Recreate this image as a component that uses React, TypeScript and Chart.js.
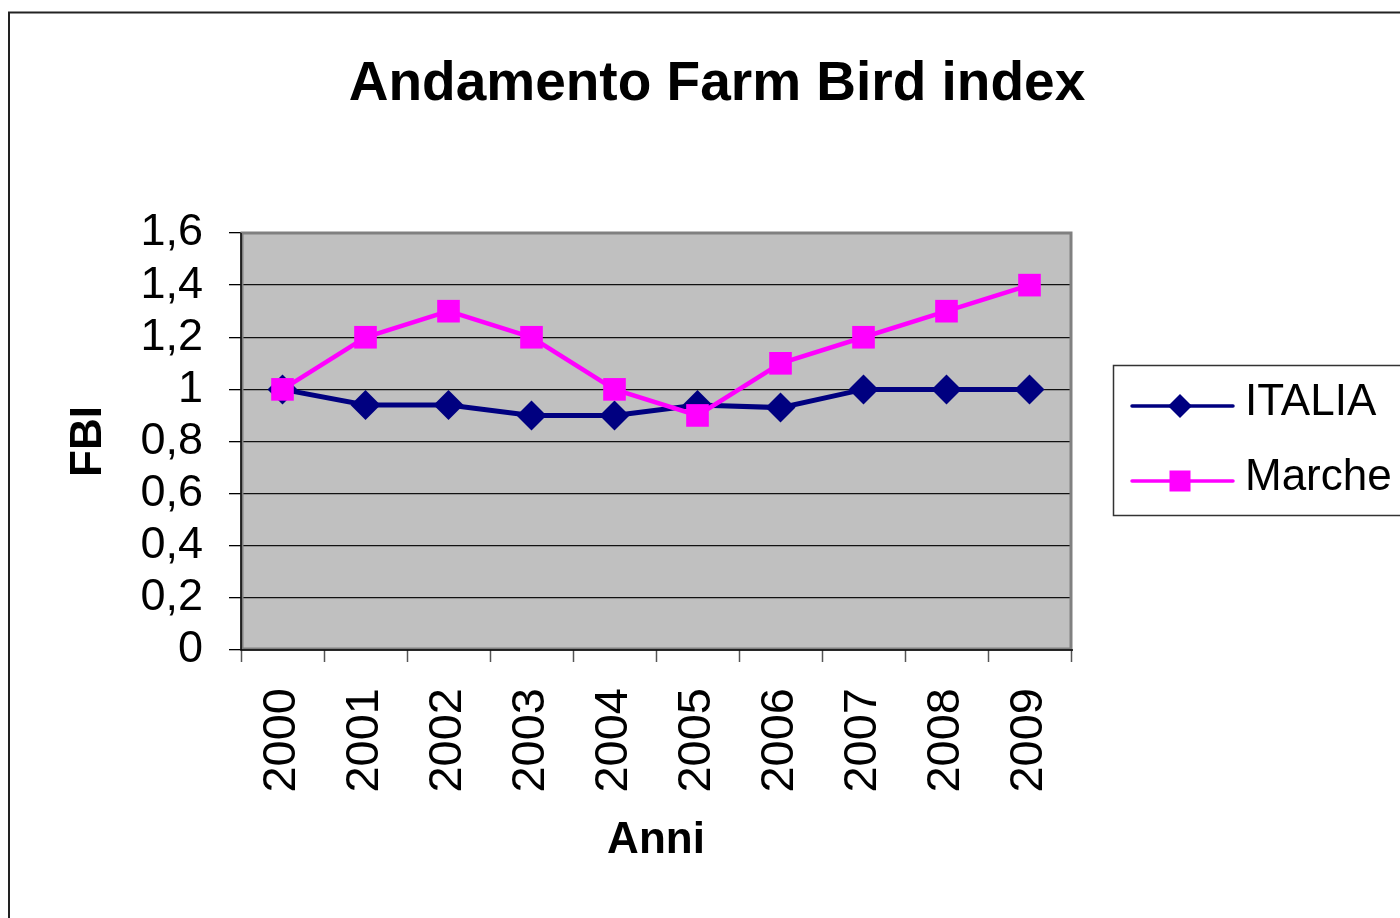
import { useEffect, useRef } from "react";
import { Chart, registerables } from "chart.js";

Chart.register(...registerables);

// ---- data ----
const years = ["2000", "2001", "2002", "2003", "2004", "2005", "2006", "2007", "2008", "2009"];
const italia = [1, 0.94, 0.94, 0.9, 0.9, 0.94, 0.93, 1, 1, 1];
const marche = [1, 1.2, 1.3, 1.2, 1, 0.9, 1.1, 1.2, 1.3, 1.4];
const yTickValues = [0, 0.2, 0.4, 0.6, 0.8, 1, 1.2, 1.4, 1.6];
const yTickLabels = ["0", "0,2", "0,4", "0,6", "0,8", "1", "1,2", "1,4", "1,6"];
const seriesNames = ["ITALIA", "Marche"];
const chartTitle = "Andamento Farm Bird index";
const xTitle = "Anni";
const yTitle = "FBI";

const FONT = '"Liberation Sans", Arial, Helvetica, sans-serif';
const NAVY = "#000080";
const MAGENTA = "#FF00FF";
const CANVAS_W = 1434;
const CANVAS_H = 918;

const excelPlugin = {
  id: "excelLook",
  beforeDraw(chart: any) {
    const { ctx, chartArea: a } = chart;
    ctx.save();
    ctx.fillStyle = "#ffffff";
    ctx.fillRect(0, 0, chart.width, chart.height);
    ctx.fillStyle = "#C0C0C0";
    ctx.fillRect(a.left, a.top, a.right - a.left, a.bottom - a.top);
    ctx.restore();
  },
  beforeDatasetsDraw(chart: any) {
    const { ctx, chartArea: a } = chart;
    ctx.save();
    ctx.strokeStyle = "#808080";
    ctx.lineWidth = 3;
    ctx.strokeRect(a.left + 1, a.top, a.right - a.left - 1, a.bottom - a.top - 1);
    ctx.strokeStyle = "#000000";
    ctx.lineWidth = 1.5;
    ctx.beginPath();
    ctx.moveTo(a.left, a.top);
    ctx.lineTo(a.left, a.bottom);
    ctx.lineTo(a.right + 2, a.bottom);
    ctx.stroke();
    ctx.restore();
  },
  afterDraw(chart: any) {
    const { ctx } = chart;
    ctx.save();
    // outer chart border (left and top visible)
    ctx.strokeStyle = "#222222";
    ctx.lineWidth = 2;
    ctx.beginPath();
    ctx.moveTo(9, chart.height + 5);
    ctx.lineTo(9, 12.5);
    ctx.lineTo(chart.width + 5, 12.5);
    ctx.stroke();

    // legend
    const bx = 1113.5, by = 365.5, bh = 150;
    ctx.strokeStyle = "#333333";
    ctx.lineWidth = 1.5;
    ctx.strokeRect(bx, by, 400, bh);
    const rows = [
      { y: 406, color: NAVY, name: seriesNames[0], shape: "diamond" },
      { y: 481, color: MAGENTA, name: seriesNames[1], shape: "square" },
    ];
    rows.forEach((r) => {
      ctx.strokeStyle = r.color;
      ctx.lineWidth = 3.5;
      ctx.lineCap = "round";
      ctx.beginPath();
      ctx.moveTo(1132, r.y);
      ctx.lineTo(1233, r.y);
      ctx.stroke();
      ctx.fillStyle = r.color;
      const cx = 1180;
      if (r.shape === "diamond") {
        const s = 12;
        ctx.beginPath();
        ctx.moveTo(cx, r.y - s);
        ctx.lineTo(cx + s, r.y);
        ctx.lineTo(cx, r.y + s);
        ctx.lineTo(cx - s, r.y);
        ctx.closePath();
        ctx.fill();
      } else {
        const h = 10.5;
        ctx.fillRect(cx - h, r.y - h, 2 * h, 2 * h);
      }
      ctx.fillStyle = "#000000";
      ctx.font = `44px ${FONT}`;
      ctx.textAlign = "left";
      ctx.textBaseline = "middle";
      ctx.fillText(r.name, 1245, r.y - 3);
    });
    ctx.restore();
  },
};

export default function App() {
  const ref = useRef<HTMLCanvasElement | null>(null);

  useEffect(() => {
    if (!ref.current) return;
    const chart = new Chart(ref.current, {
      type: "line",
      data: {
        labels: years,
        datasets: [
          {
            label: seriesNames[0],
            data: italia,
            borderColor: NAVY,
            backgroundColor: NAVY,
            borderWidth: 5,
            pointStyle: "rectRot",
            pointRadius: 15,
            pointBorderWidth: 0,
            pointBackgroundColor: NAVY,
            pointBorderColor: NAVY,
            tension: 0,
            order: 1,
          },
          {
            label: seriesNames[1],
            data: marche,
            borderColor: MAGENTA,
            backgroundColor: MAGENTA,
            borderWidth: 4.5,
            pointStyle: "rect",
            pointRadius: 16,
            pointBorderWidth: 0,
            pointBackgroundColor: MAGENTA,
            pointBorderColor: MAGENTA,
            tension: 0,
            order: 0,
          },
        ],
      },
      options: {
        responsive: false,
        animation: false,
        devicePixelRatio: 1,
        layout: { padding: 0 },
        plugins: {
          legend: { display: false },
          tooltip: { enabled: false },
          title: {
            display: true,
            text: chartTitle,
            color: "#000000",
            font: { family: FONT, size: 55, weight: "bold", lineHeight: 1.2 },
            padding: { top: 52, bottom: 115 },
          },
        },
        scales: {
          x: {
            type: "category",
            offset: true,
            grid: {
              offset: true,
              drawOnChartArea: false,
              drawTicks: true,
              tickLength: 12,
              tickColor: "#555555",
              tickWidth: 1.5,
            },
            border: { display: false },
            ticks: {
              color: "#000000",
              font: { family: FONT, size: 47 },
              maxRotation: 90,
              minRotation: 90,
              padding: 26,
              autoSkip: false,
            },
            title: {
              display: true,
              text: xTitle,
              color: "#000000",
              font: { family: FONT, size: 44, weight: "bold", lineHeight: 1.2 },
              padding: { top: 0, bottom: 51 },
            },
            afterFit(scale: any) {
              scale.height = 268;
            },
          },
          y: {
            type: "linear",
            position: "left",
            min: 0,
            max: 1.6,
            grid: {
              color: "#111111",
              lineWidth: 1.3,
              drawTicks: true,
              tickLength: 12,
              tickColor: "#000000",
            },
            border: { display: false },
            afterBuildTicks(scale: any) {
              scale.ticks = yTickValues.map((v) => ({ value: v }));
            },
            ticks: {
              color: "#000000",
              font: { family: FONT, size: 45 },
              padding: 26,
              autoSkip: false,
              callback: (_v: any, i: number) => yTickLabels[i],
            },
            title: {
              display: true,
              text: yTitle,
              color: "#000000",
              font: { family: FONT, size: 44, weight: "bold", lineHeight: 1.2 },
              padding: { top: 62, bottom: 0 },
            },
            afterFit(scale: any) {
              scale.width = 241;
            },
          },
          yRight: {
            type: "linear",
            position: "right",
            display: true,
            grid: { display: false, drawTicks: false },
            border: { display: false },
            ticks: { display: false },
            afterFit(scale: any) {
              scale.width = CANVAS_W - 1071;
            },
          },
        },
      },
      plugins: [excelPlugin],
    });
    return () => chart.destroy();
  }, []);

  return (
    <div
      style={{
        position: "fixed",
        left: 0,
        top: 0,
        width: 1400,
        height: 918,
        overflow: "hidden",
        background: "#ffffff",
      }}
    >
      <canvas
        ref={ref}
        width={CANVAS_W}
        height={CANVAS_H}
        style={{ width: CANVAS_W, height: CANVAS_H, display: "block" }}
      />
    </div>
  );
}
